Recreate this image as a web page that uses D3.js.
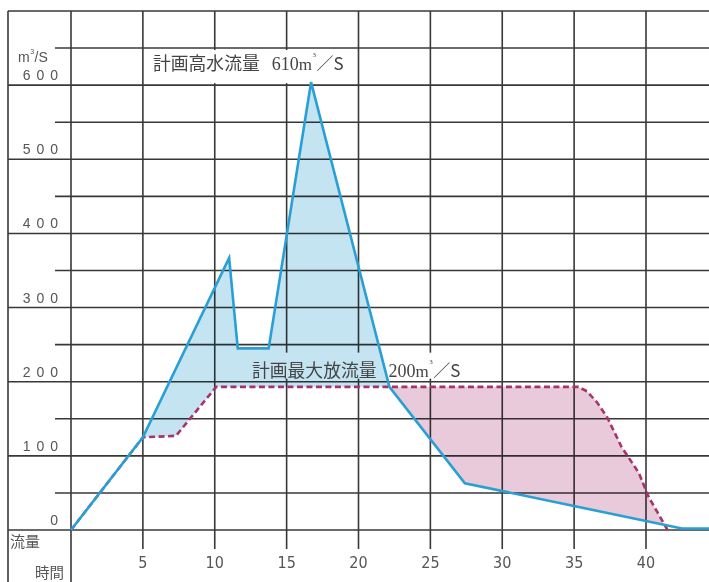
<!DOCTYPE html>
<html><head><meta charset="utf-8">
<script src="https://cdn.jsdelivr.net/npm/d3@7"></script>
<style>
html,body{margin:0;padding:0;background:#fff;}
svg{display:block;}
</style></head>
<body>
<svg id="c" width="709" height="582"></svg>
<script>
// ---- data ----
const inflowTime  = [0, 5, 11.0, 11.6, 13.75, 16.7, 22.15, 27.4, 42.5, 44.6];
const inflowValue = [0, 125, 367, 245, 245, 604, 193, 63, 2, 2];
const outflowTime  = [0, 5, 7.3, 10.1, 35.3, 35.9, 36.6, 37.3, 38.3, 39.5, 40.2, 41.5];
const outflowValue = [0, 125, 127, 193, 193, 187, 172, 152, 112, 77, 44, 0];
const xTickValues = [5, 10, 15, 20, 25, 30, 35, 40];
const xGridValues = [0, 5, 10, 15, 20, 25, 30, 35, 40];
const yTickValues = [0, 100, 200, 300, 400, 500, 600];
const yMajorGrid = [0, 100, 200, 300, 400, 500, 600, 700];
const yMinorGrid = [50, 150, 250, 350, 450, 550, 650];
const unitLabel = {unit: "m", sup: "3", tail: "/S"};
const peakLabel = {text: "計画高水流量", num: "610", unit: "m", sup: "3", tail: "／S"};
const maxLabel  = {text: "計画最大放流量", num: "200", unit: "m", sup: "3", tail: "／S"};
const axisLabelY = "流量";
const axisLabelX = "時間";

// ---- scales ----
const x = d3.scaleLinear().domain([0, 40]).range([71, 646]);
const y = d3.scaleLinear().domain([0, 700]).range([530, 11]);
const W = 709, LEFT = 8, TOP = y(700);

const svg = d3.select("#c");
const gridColor = "#383838";
const textColor = "#555";

const fin = d3.scaleLinear().domain(inflowTime).range(inflowValue);
const fout = d3.scaleLinear().domain(outflowTime).range(outflowValue);
function unionTimes(a, b){
  const all = inflowTime.concat(outflowTime).filter(t => t >= a && t <= b);
  all.push(a, b);
  return Array.from(new Set(all)).sort((p,q)=>p-q);
}
const tBlue = unionTimes(5, 22.15);
const tPink = unionTimes(22.15, 41.5);
const area = d3.area().x(d => x(d.t)).y0(d => y(d.lo)).y1(d => y(d.hi));

// grid
const g = svg.append("g");
g.selectAll("line.v").data(xGridValues).join("line")
  .attr("x1", d => x(d)).attr("x2", d => x(d))
  .attr("y1", TOP).attr("y2", d => d === 0 ? 582 : 549)
  .attr("stroke", gridColor).attr("stroke-width", 1.6);
g.append("line").attr("x1", LEFT).attr("x2", LEFT).attr("y1", TOP).attr("y2", 582)
  .attr("stroke", gridColor).attr("stroke-width", 1.6);
g.selectAll("line.h").data(yMajorGrid).join("line")
  .attr("x1", LEFT).attr("x2", W).attr("y1", d => y(d)).attr("y2", d => y(d))
  .attr("stroke", gridColor).attr("stroke-width", 1.6);
g.selectAll("line.m").data(yMinorGrid).join("line")
  .attr("x1", 55).attr("x2", W).attr("y1", d => y(d)).attr("y2", d => y(d))
  .attr("stroke", gridColor).attr("stroke-width", 1.6);

// label backgrounds
svg.append("rect").attr("x", 146).attr("y", y(650) + 2).attr("width", 208).attr("height", y(600) - y(650) - 4).attr("fill", "#fff");
svg.append("rect").attr("x", 246).attr("y", y(250) + 8).attr("width", 222).attr("height", 26).attr("fill", "#fff");

svg.append("path")
  .attr("d", area(tBlue.map(t => ({t, lo: fout(t), hi: fin(t)}))))
  .attr("fill", "#c4e4f2").style("mix-blend-mode", "multiply");
svg.append("path")
  .attr("d", area(tPink.map(t => ({t, lo: fin(t), hi: fout(t)}))))
  .attr("fill", "#e8cadb").style("mix-blend-mode", "multiply");

// ---- lines ----
const line = d3.line().x(d => x(d[0])).y(d => y(d[1]));
svg.append("path")
  .attr("d", line(outflowTime.map((t,i) => [t, outflowValue[i]])))
  .attr("fill", "none").attr("stroke", "#a8336a").attr("stroke-width", 2.6)
  .attr("stroke-dasharray", "6,3.5");
svg.append("path")
  .attr("d", line(inflowTime.map((t,i) => [t, inflowValue[i]])))
  .attr("fill", "none").attr("stroke", "#2a9fd4").attr("stroke-width", 2.6)
  .attr("stroke-linejoin", "miter");

// ---- tick labels ----
svg.selectAll("text.xt").data(xTickValues).join("text")
  .attr("x", d => x(d)).attr("y", 568)
  .attr("text-anchor", "middle")
  .attr("font-family", "'Liberation Sans Narrow','DejaVu Sans Condensed','Liberation Sans',sans-serif")
  .attr("font-size", 16).attr("fill", textColor)
  .text(d => d);

svg.selectAll("text.yt").data(yTickValues).join("text")
  .attr("x", 64).attr("y", d => y(d) - 5)
  .attr("text-anchor", "end")
  .attr("font-family", "'Liberation Sans',sans-serif")
  .attr("font-size", 14).attr("fill", textColor)
  .style("letter-spacing", "6px")
  .text(d => String(d));

// unit
const u = svg.append("text").attr("x", 18).attr("y", 62)
  .attr("font-family", "'Liberation Sans',sans-serif").attr("font-size", 14).attr("fill", textColor);
u.append("tspan").text(unitLabel.unit);
u.append("tspan").attr("font-size", 7).attr("dy", -8).attr("dx", 0.5).text(unitLabel.sup);
u.append("tspan").attr("dy", 8).attr("dx", 0.5).text(unitLabel.tail);

svg.append("text").attr("x", 10).attr("y", 547)
  .attr("font-family", "'Noto Sans CJK JP',sans-serif").attr("font-size", 15).attr("fill", textColor)
  .text(axisLabelY);
svg.append("text").attr("x", 35).attr("y", 578)
  .attr("font-family", "'Noto Sans CJK JP',sans-serif").attr("font-size", 14.5).attr("fill", textColor)
  .text(axisLabelX);

// ---- annotations ----
function annot(lbl, x0, yb){
  const t = svg.append("text").attr("x", x0).attr("y", yb).attr("fill", "#444").attr("font-size", 17.8)
    .attr("font-family", "'Noto Sans CJK JP',sans-serif");
  t.append("tspan").text(lbl.text);
  t.append("tspan").attr("dx", 12).attr("font-family", "'Liberation Serif',serif").attr("font-size", 18).text(lbl.num);
  t.append("tspan").attr("font-family", "'Liberation Serif',serif").attr("font-size", 17).text(lbl.unit);
  t.append("tspan").attr("font-family", "'Liberation Serif',serif").attr("font-size", 7).attr("dy", -13).attr("dx", 0.5).text(lbl.sup);
  t.append("tspan").attr("dy", 13).attr("dx", 0.5).attr("font-family", "'Noto Sans CJK JP',sans-serif").attr("font-size", 17).text(lbl.tail[0]);
  t.append("tspan").attr("font-family", "'Noto Sans CJK JP',sans-serif").attr("font-size", 17).text(lbl.tail[1]);
}
annot(peakLabel, 153, 70);
annot(maxLabel, 252, 377);
</script>
</body></html>
